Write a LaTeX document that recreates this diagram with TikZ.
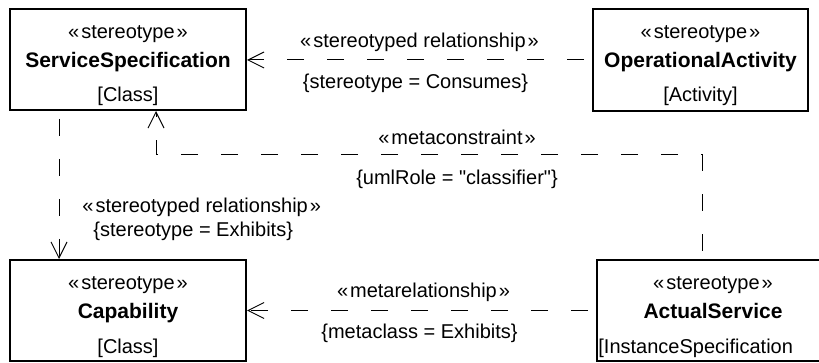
\documentclass[tikz,border=0pt]{standalone}
\usepackage{fontspec}
\setmainfont{Liberation Sans}
\usetikzlibrary{arrows.meta}

\newcommand\stereo[1]{«\kern1pt#1\kern1pt»}

\begin{document}
\begin{tikzpicture}[x=0.5pt, y=-0.5pt,
    stereobox/.style={draw, line width=1pt, inner sep=0pt},
    boxline/.style={inner sep=0pt, anchor=base, font=\fontsize{10}{12}\selectfont},
    boxname/.style={boxline, font=\fontsize{10.5}{12}\selectfont\bfseries},
    dep/.style={line width=0.5pt, dash pattern=on 8.5pt off 11.5pt, dash phase=16pt,
      -{Straight Barb[length=8pt, width=8pt]}},
    lbl/.style={inner sep=0pt, font=\fontsize{10}{12}\selectfont}]

    % Khung hình
    \useasboundingbox (0,0) rectangle (819,363);
    \clip (0,0) rectangle (819,363);

    % ServiceSpecification
    \node[stereobox, minimum width=118pt, minimum height=50.5pt] (ss) at (128,59.5) {};
    \node[boxline] (ssA) at ([yshift=-15.5pt]ss.north) {\stereo{stereotype}};
    \node[boxname] (ssB) at ([yshift=-30pt]ss.north) {ServiceSpecification};
    \node[boxline] (ssC) at ([yshift=-47pt]ss.north) {[Class]};

    % OperationalActivity
    \node[stereobox, minimum width=107.5pt, minimum height=51pt] (op) at (700.5,60) {};
    \node[boxline] (opA) at ([yshift=-15.5pt]op.north) {\stereo{stereotype}};
    \node[boxname] (opB) at ([yshift=-30pt]op.north) {OperationalActivity};
    \node[boxline] (opC) at ([yshift=-47pt]op.north) {[Activity]};

    % Capability
    \node[stereobox, minimum width=118pt, minimum height=50.5pt] (cap) at (128,310.5) {};
    \node[boxline] (capA) at ([yshift=-15.5pt]cap.north) {\stereo{stereotype}};
    \node[boxname] (capB) at ([yshift=-30pt]cap.north) {Capability};
    \node[boxline] (capC) at ([yshift=-47pt]cap.north) {[Class]};

    % ActualService (bị cắt ở mép phải)
    \node[stereobox, minimum width=116pt, minimum height=50.5pt] (act) at (713,310.5) {};
    \node[boxline] (actA) at ([yshift=-15.5pt]act.north) {\stereo{stereotype}};
    \node[boxname] (actB) at ([yshift=-30pt]act.north) {ActualService};
    \node[boxline, anchor=base west] (actC) at ([xshift=1pt, yshift=-47pt]act.north west)
        {[InstanceSpecification};

    % stereotyped relationship (Consumes)
    \draw[dep] (op.west) -- (op.west -| ss.east)
        node[lbl, midway, above=4pt] (consA) {\stereo{stereotyped relationship}}
        node[lbl, midway, below=7pt, xshift=-2pt] (consB) {\{stereotype = Consumes\}};

    % stereotyped relationship (Exhibits)
    \draw[dep] ([xshift=25pt]ss.south west) -- ([xshift=25pt]cap.north west);
    \node[lbl, anchor=west] (exhA) at (82,207) {\stereo{stereotyped relationship}};
    \node[lbl, anchor=west] (exhB) at (93,231) {\{stereotype = Exhibits\}};

    % metaconstraint
    \draw[dep] ([xshift=53pt]act.north west) -- ++(0,-104) -| ([xshift=73.5pt]ss.south west);
    \node[lbl] (mcA) at (457,137) {\stereo{metaconstraint}};
    \node[lbl] (mcB) at (457,179) {\{umlRole = \textquotedbl classifier\textquotedbl\}};

    % metarelationship
    \draw[dep] (act.west) -- (act.west -| cap.east)
        node[lbl, midway, above=4pt, xshift=1pt] (mrA) {\stereo{metarelationship}}
        node[lbl, midway, below=6.5pt, xshift=-1pt] (mrB) {\{metaclass = Exhibits\}};

\end{tikzpicture}
\end{document}
